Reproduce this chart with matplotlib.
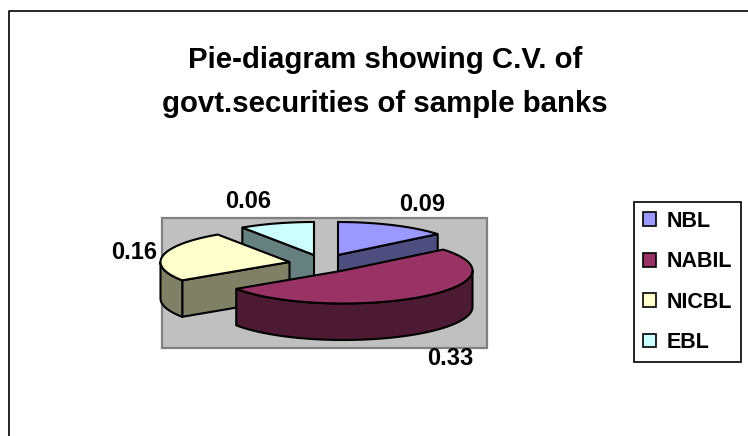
import numpy as np
import matplotlib
matplotlib.use('Agg')
import matplotlib.pyplot as plt
from matplotlib.patches import Polygon, Rectangle, Patch

banks = ['NBL', 'NABIL', 'NICBL', 'EBL']
cv_values = [0.09, 0.33, 0.16, 0.06]
value_labels = ['0.09', '0.33', '0.16', '0.06']
top_colors = ['#9999FF', '#993366', '#FFFFCC', '#CCFFFF']
side_colors = ['#4D4D80', '#4D1A33', '#808066', '#668080']

# pie geometry, in pixels of the reference picture
centers = [(338, 255), (343.5, 270.5), (289.5, 262), (314, 255)]
label_pos = [(422, 204), (450, 358), (134, 252), (248, 201)]
RX, RY, DEPTH = 129, 33, 36.5

plt.rcParams['font.family'] = ['Liberation Sans', 'DejaVu Sans']
plt.rcParams['font.weight'] = 'bold'

fig = plt.figure(figsize=(7.48, 4.36), dpi=100)
ax = fig.add_axes([0, 0, 1, 1])
ax.set_xlim(0, 748)
ax.set_ylim(436, 0)
ax.axis('off')

# outer chart frame, cut off by the picture on the right and bottom
ax.plot([9, 9, 748], [436, 11.5, 11.5], color='black', lw=1.2)

# plot area
ax.add_patch(Rectangle((162.5, 218), 325, 130, fc='#C0C0C0', ec='#808080', lw=1.6))


def rim(center, a, b):
    """Points on the ellipse, angles in degrees clockwise from the top"""
    t = np.radians(np.linspace(a, b, 90))
    return np.column_stack([center[0] + RX * np.sin(t), center[1] - RY * np.cos(t)])


def draw_slice(center, a, b, top, side):
    cx, cy = center
    poly = dict(fc=side, ec='black', lw=1.5, joinstyle='round')
    # cut faces turned towards the viewer
    for ang, visible in ((a, np.sin(np.radians(a)) < -1e-6), (b, np.sin(np.radians(b)) > 1e-6)):
        if visible:
            ex, ey = rim(center, ang, ang)[0]
            ax.add_patch(Polygon([(cx, cy), (ex, ey), (ex, ey + DEPTH), (cx, cy + DEPTH)], **poly))
    # outer wall, only the front half of the rim shows
    lo, hi = max(a, 90), min(b, 270)
    if lo < hi:
        upper = rim(center, lo, hi)
        lower = upper[::-1] + [0, DEPTH]
        ax.add_patch(Polygon(np.vstack([upper, lower]), **poly))
    # top face
    ax.add_patch(Polygon(np.vstack([[center], rim(center, a, b)]), fc=top, ec='black', lw=1.5))


shares = np.array(cv_values) / sum(cv_values) * 360
starts = np.concatenate([[0], np.cumsum(shares)[:-1]])
ends = np.cumsum(shares)

# back to front
for i in [0, 3, 2, 1]:
    draw_slice(centers[i], starts[i], ends[i], top_colors[i], side_colors[i])

for (x, y), txt in zip(label_pos, value_labels):
    ax.text(x, y, txt, ha='center', va='center', fontsize=17, color='black')

ax.text(385, 82, 'Pie-diagram showing C.V. of\ngovt.securities of sample banks',
        ha='center', va='center', fontsize=21.2, linespacing=1.75, color='black')

handles = [Patch(fc=c, ec='black', lw=1.2) for c in top_colors]
leg = ax.legend(handles, banks, loc='center', bbox_to_anchor=(687.5, 282), bbox_transform=ax.transData,
                fontsize=15.5, frameon=True, fancybox=False, edgecolor='black', framealpha=1,
                handlelength=0.62, handleheight=0.62, handletextpad=0.5, labelspacing=0.9,
                borderpad=0.42, borderaxespad=0)
leg.get_frame().set_linewidth(1.2)

fig.savefig('out.png', dpi=100)
